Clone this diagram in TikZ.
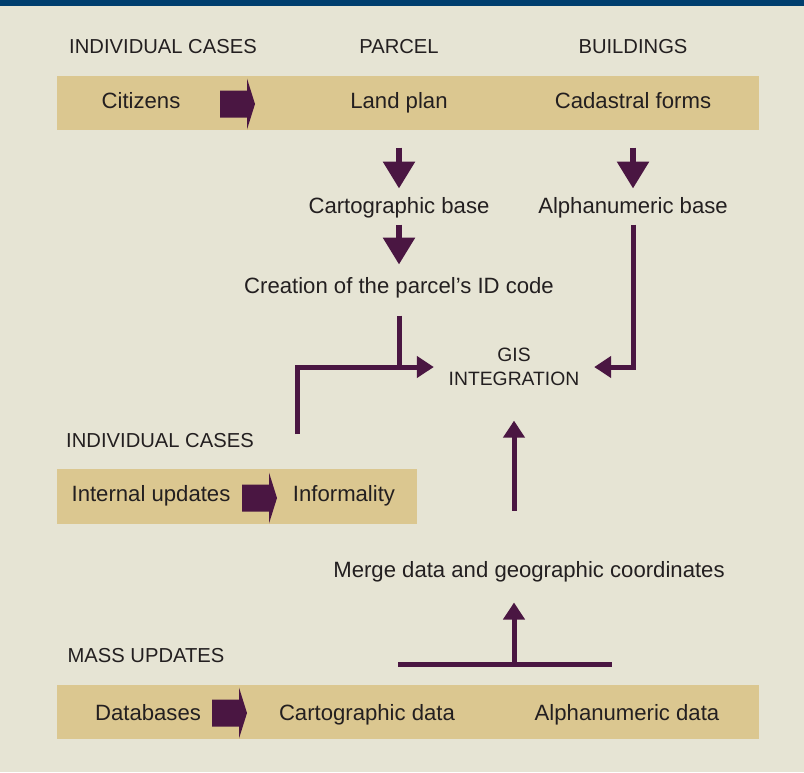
\documentclass[tikz,border=0pt]{standalone}
\usepackage{fontspec}
\setmainfont{Liberation Sans}
\usetikzlibrary{arrows.meta}
\definecolor{paper}{HTML}{E6E4D4}
\definecolor{band}{HTML}{DBC790}
\definecolor{plum}{HTML}{4A1642}
\definecolor{navy}{HTML}{003E6E}
\definecolor{ink}{HTML}{231F20}
\begin{document}
\begin{tikzpicture}[x=0.02cm,y=-0.02cm,
    txt/.style={font=\fontsize{12.6}{14}\selectfont,text=ink,inner sep=0pt,text height=10pt,text depth=1pt},
    captxt/.style={txt,font=\fontsize{11.5}{13.6}\selectfont},
    bigdown/.style={plum,line width=0.12cm,-{Triangle[width=0.62cm,length=0.54cm]}},
    gisarrow/.style={plum,line width=0.1cm,-{Triangle[width=0.42cm,length=0.34cm]}},
    gisline/.style={plum,line width=0.1cm}]
      \fill [paper] (0,0) rectangle (804,772);
      \fill [navy] (0,0) rectangle (804,6);
      \def\blockarrow{-- ++(0,-13.5) -- ++(27,0) -- ++(0,-12) -- ++(8,25.5) -- ++(-8,25.5) -- ++(0,-12) -- ++(-27,0) --cycle}
      % bands
      \fill [band] (57,76) rectangle (759,130);
      \fill [band] (57,469) rectangle (417,524);
      \fill [band] (57,685) rectangle (759,739);
      \fill [plum] (220,104) \blockarrow;
      \fill [plum] (242,498) \blockarrow;
      \fill [plum] (212,713) \blockarrow;
      % headings
      \node [captxt] (cases) at (163,46) {INDIVIDUAL CASES};
      \node [captxt] (parcel) at (399,46) {PARCEL};
      \node [captxt] (buildings) at (633,46) {BUILDINGS};
      \node [txt] (citizens) at (141,101) {Citizens};
      \node [txt] (landplan) at (399,101) {Land plan};
      \node [txt] (cadastral) at (633,101) {Cadastral forms};
      \node [txt] (cartobase) at (399,206) {Cartographic base};
      \node [txt] (alphabase) at (633,206) {Alphanumeric base};
      \node [txt] (creation) at (399,286) {Creation of the parcel’s ID code};
      \node [font=\fontsize{11}{13.6}\selectfont,text=ink,inner sep=0pt,align=center] (gis) at (514,367) {GIS\\INTEGRATION};
      \node [captxt] (cases2) at (160,440) {INDIVIDUAL CASES};
      \node [txt] (internal) at (151,494) {Internal updates};
      \node [txt] (informality) at (344,494) {Informality};
      \node [txt] (merge) at (529,570) {Merge data and geographic coordinates};
      \node [captxt] (mass) at (146,655) {MASS UPDATES};
      \node [txt] (databases) at (148,713) {Databases};
      \node [txt] (cartodata) at (367,713) {Cartographic data};
      \node [txt] (alphadata) at (627,713) {Alphanumeric data};
      \coordinate (casesup) at (297,434);
      \coordinate (collectl) at (398,664);
      \coordinate (collectr) at (612,664);
      % arrows
      \draw [bigdown,shorten <=0.73cm,shorten >=0.15cm] (landplan) -- (cartobase);
      \draw [bigdown,shorten <=0.73cm,shorten >=0.15cm] (cadastral) -- (alphabase);
      \draw [bigdown,shorten <=0.17cm,shorten >=0.23cm] (cartobase) -- (creation);
      \draw [gisline,shorten <=0.39cm] (creation) -- (creation |- gis.west);
      \draw [gisarrow,shorten >=0.29cm] (casesup) |- (gis.west);
      \draw [gisarrow,shorten <=0.17cm,shorten >=0.29cm] (alphabase) |- (gis.east);
      \draw [gisarrow,shorten <=0.99cm,shorten >=0.69cm] (merge.north -| gis) -- (gis.south);
      \draw [gisline] (collectl) -- (collectr);
      \draw [gisarrow,shorten >=0.45cm] (collectl -| gis) -- (merge.south -| gis);
    \end{tikzpicture}
\end{document}
